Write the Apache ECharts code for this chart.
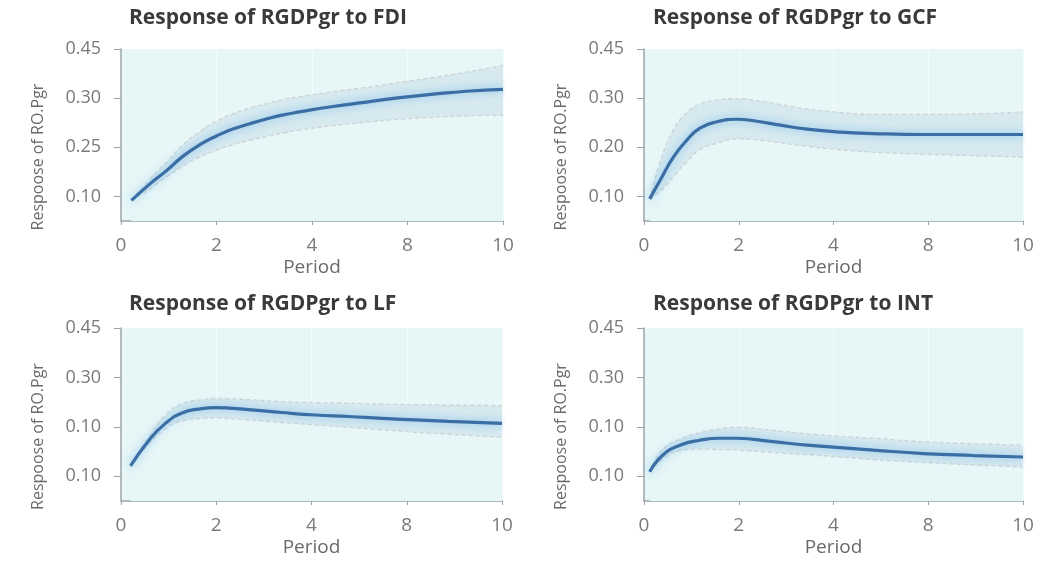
<!DOCTYPE html>
<html>
<head>
<meta charset="utf-8">
<script src="https://cdn.jsdelivr.net/npm/echarts@6/dist/echarts.min.js"></script>
<style>
html,body{margin:0;padding:0;background:#fff;}
#chart{width:1040px;height:562px;}
</style>
</head>
<body>
<div id="chart"></div>
<script>
// Titles
const titles = ['Response of RGDPgr to FDI', 'Response of RGDPgr to GCF', 'Response of RGDPgr to LF', 'Response of RGDPgr to INT'];
const xTickLabels = ['0', '2', '4', '8', '10'];
const yTickLabels = [
  ['0.10', '0.25', '0.30', '0.45'],
  ['0.10', '0.20', '0.30', '0.45'],
  ['0.10', '0.10', '0.30', '0.45'],
  ['0.10', '0.10', '0.30', '0.45']
];
const yName = 'Respoose of RO.Pgr';
const xName = 'Period';

// Panel 1: FDI
const fdiX   = [0.11, 0.3, 0.48, 0.65, 0.83, 1.0, 1.17, 1.35, 1.53, 1.7, 1.87, 2.22, 2.57, 2.92, 3.27, 3.62, 4.0];
const fdiMid = [0.092, 0.125, 0.153, 0.182, 0.206, 0.223, 0.237, 0.248, 0.258, 0.266, 0.272, 0.283, 0.292, 0.301, 0.308, 0.314, 0.318];
const fdiHi  = [0.092, 0.135, 0.170, 0.205, 0.233, 0.253, 0.268, 0.280, 0.289, 0.297, 0.303, 0.313, 0.322, 0.332, 0.342, 0.353, 0.367];
const fdiLo  = [0.092, 0.115, 0.140, 0.162, 0.181, 0.194, 0.205, 0.214, 0.222, 0.229, 0.235, 0.244, 0.251, 0.257, 0.261, 0.264, 0.265];

// Panel 2: GCF
const gcfX   = [0.06, 0.17, 0.31, 0.45, 0.59, 0.77, 0.98, 1.19, 1.44, 1.72, 2.07, 2.42, 2.95, 3.48, 4.0];
const gcfMid = [0.095, 0.133, 0.180, 0.214, 0.239, 0.252, 0.257, 0.253, 0.245, 0.237, 0.231, 0.228, 0.226, 0.226, 0.226];
const gcfHi  = [0.095, 0.170, 0.235, 0.270, 0.288, 0.296, 0.299, 0.295, 0.287, 0.278, 0.271, 0.267, 0.267, 0.268, 0.272];
const gcfLo  = [0.095, 0.110, 0.140, 0.170, 0.195, 0.208, 0.217, 0.215, 0.209, 0.202, 0.195, 0.190, 0.186, 0.183, 0.180];

// Panel 3: LF
const lfX   = [0.1, 0.29, 0.46, 0.64, 0.85, 0.99, 1.34, 1.69, 2.04, 2.39, 2.74, 3.09, 3.44, 4.0];
const lfMid = [0.121, 0.172, 0.206, 0.228, 0.237, 0.239, 0.235, 0.229, 0.224, 0.221, 0.217, 0.214, 0.211, 0.207];
const lfHi  = [0.121, 0.180, 0.222, 0.247, 0.255, 0.257, 0.255, 0.251, 0.249, 0.248, 0.246, 0.245, 0.244, 0.243];
const lfLo  = [0.121, 0.165, 0.195, 0.212, 0.217, 0.218, 0.214, 0.209, 0.204, 0.199, 0.194, 0.189, 0.185, 0.179];

// Panel 4: INT
const intX   = [0.06, 0.2, 0.38, 0.59, 0.8, 0.98, 1.36, 1.72, 2.07, 2.42, 2.95, 3.48, 4.0];
const intMid = [0.109, 0.143, 0.163, 0.173, 0.177, 0.177, 0.170, 0.163, 0.158, 0.153, 0.146, 0.142, 0.139];
const intHi  = [0.109, 0.155, 0.175, 0.188, 0.196, 0.199, 0.193, 0.186, 0.181, 0.177, 0.170, 0.166, 0.163];
const intLo  = [0.109, 0.135, 0.152, 0.155, 0.154, 0.153, 0.148, 0.144, 0.139, 0.134, 0.128, 0.123, 0.119];

const panels = [
  {x: fdiX, mid: fdiMid, hi: fdiHi, lo: fdiLo},
  {x: gcfX, mid: gcfMid, hi: gcfHi, lo: gcfLo},
  {x: lfX, mid: lfMid, hi: lfHi, lo: lfLo},
  {x: intX, mid: intMid, hi: intHi, lo: intLo}
];

const layout = [
  {left: 121, top: 49, width: 382, height: 172, tx: 124, ty: 3},
  {left: 644, top: 49, width: 379, height: 172, tx: 648, ty: 3},
  {left: 121, top: 328, width: 381, height: 173, tx: 124, ty: 289},
  {left: 644, top: 328, width: 379, height: 173, tx: 648, ty: 289}
];

const FONT = 'Open Sans';
const BG = '#e7f6f7';
const grids = [], xAxes = [], yAxes = [], series = [], titleComps = [];
panels.forEach((p, i) => {
  const L = layout[i];
  titleComps.push({
    text: titles[i], left: L.tx, top: L.ty,
    textStyle: {fontFamily: FONT, fontWeight: 'bold', fontSize: 21, color: '#3a3a3a'}
  });
  grids.push({left: L.left, top: L.top, width: L.width, height: L.height,
    show: true, backgroundColor: BG, borderWidth: 0});
  xAxes.push({
    type: 'value', gridIndex: i, min: 0, max: 4, interval: 1,
    name: xName, nameLocation: 'middle', nameGap: 37,
    nameTextStyle: {fontFamily: FONT, fontSize: 19, color: '#6a6a6a'},
    axisLine: {show: true, onZero: false, lineStyle: {color: '#9aa4a8', width: 1.5}},
    axisTick: {show: true, length: 4, lineStyle: {color: '#9aa4a8'}},
    axisLabel: {margin: 15, fontFamily: FONT, fontSize: 19, color: '#7a7a7a',
      formatter: v => xTickLabels[Math.round(v)]},
    splitLine: {show: true, lineStyle: {color: '#f3fbfb', width: 1}}
  });
  const labs = yTickLabels[i];
  yAxes.push({
    type: 'value', gridIndex: i, min: 0.05, max: 0.4,
    name: yName, nameLocation: 'middle', nameGap: 75, nameRotate: 90,
    nameTextStyle: {fontFamily: FONT, fontSize: 16, color: '#6a6a6a', padding: [0, 44, 0, 0]},
    axisLine: {show: true, onZero: false, lineStyle: {color: '#9aa4a8', width: 1.5}},
    axisTick: {show: true, length: 7, customValues: [0.1, 0.2, 0.3, 0.4], lineStyle: {color: '#9aa4a8'}},
    axisLabel: {margin: 20, fontFamily: FONT, fontSize: 18, color: '#7a7a7a',
      customValues: [0.1, 0.2, 0.3, 0.4],
      formatter: v => labs[Math.round(v * 10) - 1]},
    splitLine: {show: false}
  });
  const hiData = p.x.map((x, k) => [x, p.hi[k]]);
  const lowData = p.x.map((x, k) => [x, p.lo[k]]);
  const midData = p.x.map((x, k) => [x, p.mid[k]]);
  // upper bound: band fill down to axis
  series.push({
    type: 'line', xAxisIndex: i, yAxisIndex: i, smooth: true,
    symbol: 'none', data: hiData, silent: true, z: 2,
    lineStyle: {color: '#cdd3d4', width: 1.3, type: [4, 3]},
    areaStyle: {color: '#d6e9ef', opacity: 1, origin: 'start'}
  });
  // lower bound: background-coloured fill beneath it
  series.push({
    type: 'line', xAxisIndex: i, yAxisIndex: i, smooth: true,
    symbol: 'none', data: lowData, silent: true, z: 3,
    lineStyle: {color: '#cdd3d4', width: 1.3, type: [4, 3]},
    areaStyle: {color: BG, opacity: 1, origin: 'start'}
  });
  series.push({
    type: 'line', xAxisIndex: i, yAxisIndex: i, smooth: true,
    symbol: 'none', data: midData, z: 5,
    lineStyle: {color: '#3b6ea5', width: 3.2, shadowColor: 'rgba(90,175,235,0.75)', shadowBlur: 8}
  });
});

const chart = echarts.init(document.getElementById('chart'));
chart.setOption({
  animation: false,
  backgroundColor: '#ffffff',
  title: titleComps,
  grid: grids,
  xAxis: xAxes,
  yAxis: yAxes,
  series: series
});
</script>
</body>
</html>
